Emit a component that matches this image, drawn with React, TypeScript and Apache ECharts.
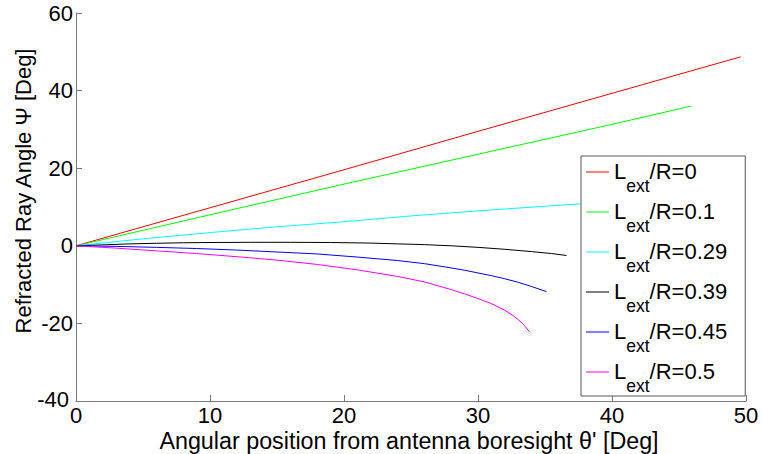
import React, { useEffect, useRef } from "react";
import * as echarts from "echarts";

const seriesNames = ["0", "0.1", "0.29", "0.39", "0.45", "0.5"];
const seriesColors = ["#ff0000", "#00ff00", "#00ffff", "#000000", "#0000ff", "#ff00ff"];

const red: [number, number][] = [[0, 0], [10, 9.8], [20, 19.6], [30, 29.5], [40, 39.3], [49.6, 48.7]];
const green: [number, number][] = [[0, 0], [10, 8.0], [20, 15.9], [30, 23.6], [40, 31.3], [45.9, 36.0]];
const cyan: [number, number][] = [[0, 0], [5, 1.8], [10, 3.4], [15, 4.9], [20, 6.2], [25, 7.7], [30, 9.0], [35, 10.2], [37.6, 10.8], [40, 11.4], [42, 11.9]];
const black: [number, number][] = [[0, 0], [2, 0.25], [4, 0.5], [6, 0.65], [8, 0.78], [10, 0.85], [13, 0.9], [16, 0.9], [19, 0.85], [22, 0.7], [24, 0.5], [26, 0.3], [28, 0.0], [30, -0.4], [32, -0.9], [34, -1.5], [35.5, -2.0], [36.6, -2.5]];
const blue: [number, number][] = [[0, 0], [3, -0.15], [6, -0.4], [9, -0.7], [12, -1.1], [15, -1.6], [18, -2.1], [21, -2.9], [24, -3.8], [26, -4.6], [28, -5.7], [29, -6.3], [30, -7.0], [31, -7.7], [32, -8.5], [33, -9.4], [34, -10.5], [35.1, -11.8]];
const magenta: [number, number][] = [[0, 0], [3, -0.6], [6, -1.3], [9, -2.0], [12, -2.8], [15, -3.7], [18, -4.8], [21, -6.2], [24, -7.9], [26, -9.3], [28, -11.3], [29, -12.4], [30, -13.6], [31, -14.9], [32, -16.6], [32.7, -18.2], [33.3, -19.9], [33.85, -22.2]];

const allData = [red, green, cyan, black, blue, magenta];

const xTicks = { min: 0, max: 50, interval: 10 };
const yTicks = { min: -40, max: 60, interval: 20 };

const xTitle = "Angular position from antenna boresight θ' [Deg]";
const yTitle = "Refracted Ray Angle Ψ [Deg]";

const FONT = "Liberation Sans, Arial, sans-serif";

export default function App() {
  const ref = useRef<HTMLDivElement>(null);
  useEffect(() => {
    if (!ref.current) return;
    const chart = echarts.init(ref.current, undefined, { renderer: "svg" });
    const axisColor = "#7a7a7a";
    chart.setOption({
      animation: false,
      backgroundColor: "#ffffff",
      grid: { left: 76, right: 16, top: 13, bottom: 53, containLabel: false },
      xAxis: {
        type: "value",
        min: xTicks.min,
        max: xTicks.max,
        interval: xTicks.interval,
        axisLine: { show: true, onZero: false, lineStyle: { color: axisColor, width: 1 } },
        axisTick: { show: true, inside: true, length: 6, lineStyle: { color: axisColor } },
        axisLabel: { color: "#000", fontFamily: FONT, fontSize: 22, lineHeight: 15, margin: 7 },
        splitLine: { show: false },
      },
      yAxis: {
        type: "value",
        min: yTicks.min,
        max: yTicks.max,
        interval: yTicks.interval,
        axisLine: { show: true, onZero: false, lineStyle: { color: axisColor, width: 1 } },
        axisTick: { show: true, inside: true, length: 6, lineStyle: { color: axisColor } },
        axisLabel: {
          color: "#000",
          fontFamily: FONT,
          fontSize: 22,
          lineHeight: 15,
          margin: 3,
          formatter: (v: number) => (v === yTicks.min ? `{low|${v}}` : `${v}`),
          rich: {
            low: { fontFamily: FONT, fontSize: 22, lineHeight: 15, color: "#000", padding: [0, 4, 3, 0] },
          },
        },
        splitLine: { show: false },
      },
      legend: {
        orient: "vertical",
        left: 581,
        top: 156,
        padding: [4, 18, 1, 5],
        itemGap: 5,
        itemWidth: 23,
        itemHeight: 1,
        icon: "rect",
        backgroundColor: "#ffffff",
        borderColor: "#555555",
        borderWidth: 1,
        borderRadius: 0,
        data: seriesNames.map((n) => ({ name: n })),
        formatter: (name: string) => `{a|L}{b|ext}{a|/R=${name}}`,
        textStyle: {
          fontFamily: FONT,
          color: "#000",
          rich: {
            a: { fontFamily: FONT, fontSize: 22, lineHeight: 24, verticalAlign: "top", color: "#000" },
            b: { fontFamily: FONT, fontSize: 17.5, lineHeight: 17, verticalAlign: "top", padding: [17, 0, 0, 0], color: "#000" },
          },
        },
      },
      graphic: [
        {
          type: "text",
          x: 409,
          y: 441,
          style: { text: xTitle, fontFamily: FONT, fontSize: 23.3, fill: "#000", textAlign: "center", textVerticalAlign: "middle" },
        },
        {
          type: "text",
          x: 23,
          y: 191,
          rotation: Math.PI / 2,
          style: { text: yTitle, fontFamily: FONT, fontSize: 22, fill: "#000", textAlign: "center", textVerticalAlign: "middle" },
        },
      ],
      series: allData.map((d, i) => ({
        name: seriesNames[i],
        type: "line",
        data: d,
        showSymbol: false,
        symbol: "none",
        lineStyle: { color: seriesColors[i], width: 1 },
        itemStyle: { color: seriesColors[i] },
      })),
    });
    return () => chart.dispose();
  }, []);
  return <div ref={ref} style={{ width: 762, height: 454, position: "absolute", left: 0, top: 0 }} />;
}
